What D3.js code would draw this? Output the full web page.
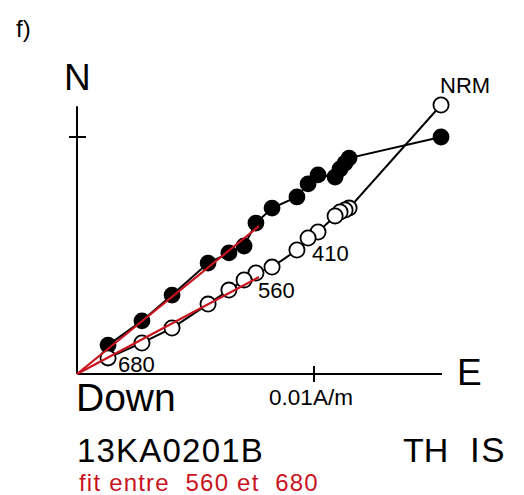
<!DOCTYPE html>
<html>
<head>
<meta charset="utf-8">
<script src="https://cdn.jsdelivr.net/npm/d3@7"></script>
<style>
  html, body { margin: 0; padding: 0; background: #fff; }
  svg { display: block; font-family: "Liberation Sans", Arial, Helvetica, sans-serif; }
</style>
</head>
<body>
<svg id="chart" width="524" height="495"></svg>
<script>
// Demagnetisation steps, values in mA/m (1 axis tick = 0.01 A/m = 10 mA/m)
const stepLabels = ["NRM", "", "", "", "", "", "410", "", "", "560", "", "", "", "", "", "680"];
const east  = [15.36, 11.48, 11.31, 11.10, 10.89, 10.17, 9.75, 9.28, 8.23, 7.55, 7.05, 6.41, 5.53, 4.01, 2.74, 1.31];
const north = [10.00, 9.11, 8.90, 8.65, 8.31, 8.40, 8.02, 7.47, 7.00, 6.37, 5.40, 5.11, 4.68, 3.33, 2.24, 1.22];
const down  = [11.35, 7.00, 6.92, 6.84, 6.67, 5.99, 5.74, 5.23, 4.51, 4.26, 3.97, 3.54, 2.95, 1.94, 1.31, 0.68];

// Principal component fit (560-680), anchored to the origin
const fitEast  = 7.68;
const fitNorth = 6.24;
const fitDown  = 4.09;

// Axis extents and tick
const eastMax = 15.4;
const vertMax = 11.3;
const tickValue = 10;
const tickLabel = "0.01A/m";

const sampleName = "13KA0201B";
const fitText = "fit entre  560 et  680";
const panelLetter = "f)";
const modeLabels = ["TH", "IS"];

const svg = d3.select("#chart");
const ox = 77, oy = 374, pxPerUnit = 23.7;

const x = d3.scaleLinear().domain([0, eastMax]).range([ox, ox + eastMax * pxPerUnit]);
const y = d3.scaleLinear().domain([0, vertMax]).range([oy, oy - vertMax * pxPerUnit]);

const RED = "#c8141e";

// Axes
const axes = svg.append("g").attr("stroke", "#000").attr("stroke-width", 2);
axes.append("line").attr("x1", x(0)).attr("x2", x(eastMax)).attr("y1", y(0)).attr("y2", y(0));
axes.append("line").attr("x1", x(0)).attr("x2", x(0)).attr("y1", y(0)).attr("y2", y(vertMax));
axes.append("line").attr("x1", x(tickValue)).attr("x2", x(tickValue)).attr("y1", y(0) - 8).attr("y2", y(0) + 8);
axes.append("line").attr("x1", x(0) - 8).attr("x2", x(0) + 9).attr("y1", y(tickValue)).attr("y2", y(tickValue));

const horiz = east.map((e, i) => [e, north[i]]);
const vert  = east.map((e, i) => [e, down[i]]);
const line = d3.line().x(d => x(d[0])).y(d => y(d[1]));

// Horizontal projection (filled)
svg.append("path").datum(horiz).attr("d", line)
  .attr("fill", "none").attr("stroke", "#000").attr("stroke-width", 2);
// Vertical projection (open)
svg.append("path").datum(vert).attr("d", line)
  .attr("fill", "none").attr("stroke", "#000").attr("stroke-width", 2);

svg.append("g").selectAll("circle").data(horiz).join("circle")
  .attr("cx", d => x(d[0])).attr("cy", d => y(d[1])).attr("r", 8.4)
  .attr("fill", "#000");

svg.append("g").selectAll("circle").data(vert).join("circle")
  .attr("cx", d => x(d[0])).attr("cy", d => y(d[1])).attr("r", 7.6)
  .attr("fill", "#fff").attr("stroke", "#000").attr("stroke-width", 1.8);

// Fit lines
svg.append("line").attr("x1", x(0)).attr("y1", y(0)).attr("x2", x(fitEast)).attr("y2", y(fitNorth))
  .attr("stroke", RED).attr("stroke-width", 2.2);
svg.append("line").attr("x1", x(0)).attr("y1", y(0)).attr("x2", x(fitEast)).attr("y2", y(fitDown))
  .attr("stroke", RED).attr("stroke-width", 2.2);

// Step labels next to the open symbols
const labelOffset = { "NRM": [-1, -12], "410": [4, 23], "560": [2, 25], "680": [10, 14] };
svg.append("g").selectAll("text")
  .data(vert.map((d, i) => ({ d, t: stepLabels[i] })).filter(o => o.t))
  .join("text")
  .attr("x", o => x(o.d[0]) + labelOffset[o.t][0])
  .attr("y", o => y(o.d[1]) + labelOffset[o.t][1])
  .attr("font-size", 22)
  .attr("fill", "#000")
  .text(o => o.t);

// Axis names
svg.append("text").attr("x", 64).attr("y", 90).attr("font-size", 37).text("N");
svg.append("text").attr("x", 457).attr("y", 385).attr("font-size", 37).text("E");
svg.append("text").attr("x", 76).attr("y", 411).attr("font-size", 39).text("Down");
svg.append("text").attr("x", x(tickValue) - 3).attr("y", 405).attr("font-size", 22.5)
  .attr("text-anchor", "middle").text(tickLabel);

svg.append("text").attr("x", 16).attr("y", 37).attr("font-size", 24).text(panelLetter);

svg.append("text").attr("x", 77).attr("y", 462).attr("font-size", 33)
  .attr("letter-spacing", 1.2).text(sampleName);
svg.append("text").attr("x", 403).attr("y", 462).attr("font-size", 34).text(modeLabels[0]);
svg.append("text").attr("x", 470).attr("y", 462).attr("font-size", 35)
  .attr("letter-spacing", 1.5).text(modeLabels[1]);
svg.append("text").attr("x", 79).attr("y", 491).attr("font-size", 24).attr("fill", RED)
  .attr("letter-spacing", 1.2)
  .attr("xml:space", "preserve").style("white-space", "pre").text(fitText);
</script>
</body>
</html>
